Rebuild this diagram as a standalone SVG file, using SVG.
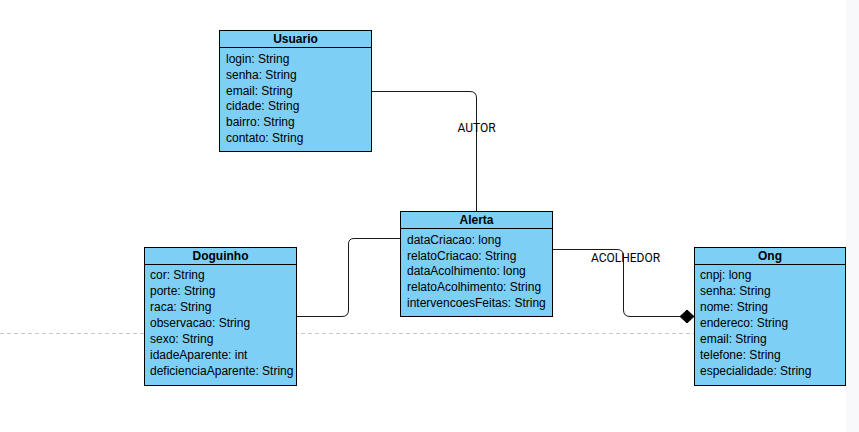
<svg xmlns="http://www.w3.org/2000/svg" width="859" height="432" viewBox="0 0 859 432">
  <style>
    .box { fill: #7dcff5; stroke: #000; stroke-width: 1; }
    .sep { stroke: #000; stroke-width: 1; }
    .title { font-family: "Liberation Sans", Arial, sans-serif; font-size: 12px; font-weight: bold; fill: #000; text-anchor: middle; }
    .attr { font-family: "Liberation Sans", Arial, sans-serif; font-size: 12px; fill: #000; }
    .edge { fill: none; stroke: #1a1a1a; stroke-width: 1; }
    .elabel { font-family: Roboto, "Liberation Sans", sans-serif; font-size: 12px; fill: #000; text-anchor: middle; }
  </style>
  <rect x="0" y="0" width="859" height="432" fill="#ffffff"/>
  <rect x="846" y="0" width="13" height="432" fill="#f8f9fb"/>
  <line x1="0" y1="333.5" x2="846" y2="333.5" stroke="#c8c8c8" stroke-width="1" stroke-dasharray="4 3"/>

  <g id="connectors">
    <path class="edge" d="M372 91.5 H470 Q476.5 91.5 476.5 98 V211"/>
    <text class="elabel" x="476.5" y="132">AUTOR</text>
    <path class="edge" d="M400 238.5 H354 Q348.5 238.5 348.5 244 V310 Q348.5 316.5 342 316.5 H297"/>
    <path class="edge" d="M553 249.5 H617 Q623.5 249.5 623.5 256 V310 Q623.5 316.5 630 316.5 H680"/>
    <polygon points="680,316.5 687,310 694,316.5 687,323" fill="#000" stroke="#000" stroke-width="1"/>
    <text class="elabel" x="625.5" y="261.5">ACOLHEDOR</text>
  </g>

  <g id="usuario">
    <rect class="box" x="219.5" y="30.5" width="152" height="121"/>
    <line class="sep" x1="219.5" y1="47.5" x2="371.5" y2="47.5"/>
    <text class="title" x="295.5" y="43">Usuario</text>
    <text class="attr" x="226" y="63">login: String</text>
    <text class="attr" x="226" y="79">senha: String</text>
    <text class="attr" x="226" y="95">email: String</text>
    <text class="attr" x="226" y="110">cidade: String</text>
    <text class="attr" x="226" y="126">bairro: String</text>
    <text class="attr" x="226" y="142">contato: String</text>
  </g>

  <g id="alerta">
    <rect class="box" x="400.5" y="211.5" width="152" height="105"/>
    <line class="sep" x1="400.5" y1="228.5" x2="552.5" y2="228.5"/>
    <text class="title" x="476.5" y="224">Alerta</text>
    <text class="attr" x="407" y="244">dataCriacao: long</text>
    <text class="attr" x="407" y="260">relatoCriacao: String</text>
    <text class="attr" x="407" y="275">dataAcolhimento: long</text>
    <text class="attr" x="407" y="291">relatoAcolhimento: String</text>
    <text class="attr" x="407" y="307">intervencoesFeitas: String</text>
  </g>

  <g id="doguinho">
    <rect class="box" x="144.5" y="247.5" width="152" height="138"/>
    <line class="sep" x1="144.5" y1="264.5" x2="296.5" y2="264.5"/>
    <text class="title" x="220.5" y="260">Doguinho</text>
    <text class="attr" x="150" y="279">cor: String</text>
    <text class="attr" x="150" y="295">porte: String</text>
    <text class="attr" x="150" y="311">raca: String</text>
    <text class="attr" x="150" y="327">observacao: String</text>
    <text class="attr" x="150" y="343">sexo: String</text>
    <text class="attr" x="150" y="359">idadeAparente: int</text>
    <text class="attr" x="150" y="375">deficienciaAparente: String</text>
  </g>

  <g id="ong">
    <rect class="box" x="694.5" y="247.5" width="151" height="138"/>
    <line class="sep" x1="694.5" y1="264.5" x2="845.5" y2="264.5"/>
    <text class="title" x="770" y="260">Ong</text>
    <text class="attr" x="700" y="279">cnpj: long</text>
    <text class="attr" x="700" y="295">senha: String</text>
    <text class="attr" x="700" y="311">nome: String</text>
    <text class="attr" x="700" y="327">endereco: String</text>
    <text class="attr" x="700" y="343">email: String</text>
    <text class="attr" x="700" y="359">telefone: String</text>
    <text class="attr" x="700" y="375">especialidade: String</text>
  </g>
</svg>
